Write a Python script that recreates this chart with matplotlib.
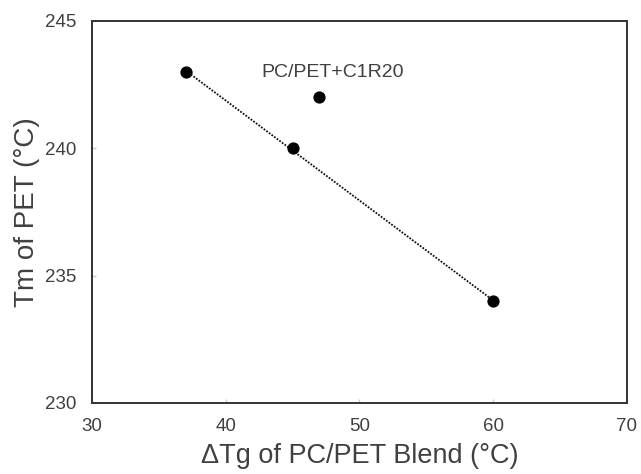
import matplotlib.pyplot as plt
import numpy as np

plt.rcParams['font.family'] = ['Liberation Sans', 'DejaVu Sans']

# blends without compatibilizer
dTg = [37, 45, 60]
Tm = [243, 240, 234]
# compatibilized blend
dTg_c = [47]
Tm_c = [242]
label_c = "PC/PET+C1R20"

txt = '#404040'

fig = plt.figure(figsize=(6.41, 4.74), dpi=100)
ax = fig.add_axes([0.1435, 0.1498, 0.8345, 0.8059])

# linear trend through the plain blends
k, b = np.polyfit(dTg, Tm, 1)
xf = np.array([min(dTg), max(dTg)])
ax.plot(xf, k*xf + b, linestyle=(0, (1, 0.8)), color='#111111', lw=1.3, zorder=2)

ax.plot(dTg, Tm, 'o', color='black', ms=7.8, zorder=3)
ax.plot(dTg_c, Tm_c, 'o', color='black', ms=7.8, zorder=3)
ax.annotate(label_c, (dTg_c[0], Tm_c[0]), xytext=(-58, 20), textcoords='offset pixels',
            fontsize=14, color=txt, va='baseline')

ax.set_xlim(30, 70)
ax.set_ylim(230, 245)
ax.set_xticks([30, 40, 50, 60, 70])
ax.set_yticks([230, 235, 240, 245])

for s in ax.spines.values():
    s.set_color('#333333')
    s.set_linewidth(1.4)

ax.tick_params(direction='in', length=3, color='#cccccc', width=1,
               labelsize=13.5, labelcolor=txt, pad=11)

ax.set_xlabel("ΔTg of PC/PET Blend (°C)", fontsize=19.5, color=txt, labelpad=5.5)
ax.set_ylabel("Tm of PET (°C)", fontsize=20, color=txt, labelpad=4)

fig.savefig('out.png', dpi=100)
